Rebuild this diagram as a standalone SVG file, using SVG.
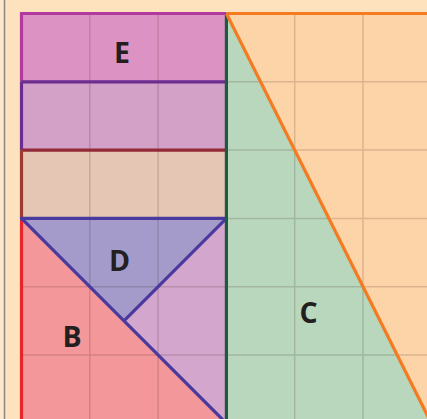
<svg xmlns="http://www.w3.org/2000/svg" width="427" height="419" viewBox="0 0 427 419">
  <style>
    .lbl { font-family: "Open Sans", "Liberation Sans", sans-serif; font-weight: 700; font-size: 28.5px; fill: #231f20; text-anchor: middle; }
    .grid { stroke: #3c1e14; stroke-opacity: 0.17; stroke-width: 1.5; fill: none; }
    .edge { fill: none; stroke-width: 3.2; stroke-linecap: butt; }
  </style>
  <rect x="0" y="0" width="427" height="419" fill="#fde2bd"/>
  <rect x="0" y="0" width="4" height="419" fill="#fde8cc"/>
  <line x1="4.5" y1="0" x2="4.5" y2="419" stroke="#8a8684" stroke-width="1.5"/>

  <!-- fills -->
  <g id="orange"><polygon points="226.4,13.5 431.3,13.5 431.3,423.3" fill="#fdd3a8"/></g>
  <g id="C"><polygon points="226.4,13.5 431.3,423.3 226.4,423.3" fill="#b9d7bd"/></g>
  <g id="E"><rect x="21.5" y="13.5" width="204.9" height="68.3" fill="#dc93c3"/></g>
  <g id="row2"><rect x="21.5" y="81.8" width="204.9" height="68.3" fill="#d3a0c8"/></g>
  <g id="row3"><rect x="21.5" y="150.1" width="204.9" height="68.3" fill="#e5c6b5"/></g>
  <g id="D"><polygon points="21.5,218.4 226.4,218.4 123.95,320.85" fill="#a49bcb"/></g>
  <g id="P"><polygon points="226.4,218.4 226.4,423.3 123.95,320.85" fill="#d3a6cd"/></g>
  <g id="B"><polygon points="21.5,218.4 226.4,423.3 21.5,423.3" fill="#f4979a"/></g>

  <!-- grid -->
  <g id="grid" class="grid">
    <path d="M89.8,13.5V423 M158.1,13.5V423 M294.7,13.5V423 M363,13.5V423
             M21.5,81.8H431 M21.5,150.1H431 M21.5,218.4H431 M21.5,286.7H431 M21.5,355H431"/>
  </g>

  <!-- edges -->
  <g id="edges">
    <path class="edge" d="M21.5,13.5H226.4 M21.5,12V81.8" stroke="#b23a9e"/>
    <path class="edge" d="M21.5,81.8H226.4 M21.5,81.8V150.1" stroke="#6b2d8f"/>
    <path class="edge" d="M21.5,150.1H226.4" stroke="#922a38"/>
    <path class="edge" d="M21.5,150.1V218.4" stroke="#9c3a32" stroke-width="2.2"/>
    <path class="edge" d="M21.5,423.3V218.4" stroke="#e8262a"/>
    <path class="edge" d="M20,218.4H226.4 M226.4,218.4L123.95,320.85 M21.5,218.4L226.4,423.3" stroke="#4a3a9e"/>
    <path class="edge" d="M226.4,13.5V423.3" stroke="#1d5a3f" stroke-width="3.6"/>
    <path class="edge" d="M226.4,13.5H431.3 M226.4,13.5L431.3,423.3" stroke="#f47b20"/>
  </g>

  <!-- labels -->
  <text class="lbl" x="122" y="63">E</text>
  <text class="lbl" x="119.5" y="271">D</text>
  <text class="lbl" x="72" y="347">B</text>
  <text class="lbl" x="308.5" y="323">C</text>
</svg>
